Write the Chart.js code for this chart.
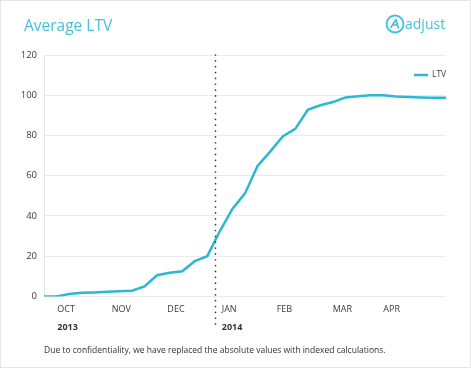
<!DOCTYPE html>
<html><head><meta charset="utf-8">
<script src="https://cdn.jsdelivr.net/npm/chart.js@4"></script>
<style>html,body{margin:0;padding:0;background:#fff}#wrap{width:471px;height:368px;position:relative}</style>
</head><body><div id="wrap"><canvas id="c"></canvas></div>
<script>
// ---- data (weekly points) ----
const weeks = ['2013-09-23','2013-09-30','2013-10-07','2013-10-14','2013-10-21','2013-10-28','2013-11-04','2013-11-11','2013-11-18','2013-11-25','2013-12-02','2013-12-09','2013-12-16','2013-12-23','2013-12-30','2014-01-06','2014-01-13','2014-01-20','2014-01-27','2014-02-03','2014-02-10','2014-02-17','2014-02-24','2014-03-03','2014-03-10','2014-03-17','2014-03-24','2014-03-31','2014-04-07','2014-04-14','2014-04-21','2014-04-28','2014-05-05'];
const ltv = [0,0,1.2,1.8,2.0,2.3,2.6,2.8,5.0,10.5,11.8,12.5,17.5,20,32.5,43.5,51.2,64.8,72,79.5,83.3,92.8,95,96.6,98.9,99.5,100,100,99.4,99.1,98.9,98.8,98.8];
const monthLabels = ['OCT','NOV','DEC','JAN','FEB','MAR','APR'];
const monthPos = [1.06,5.39,9.82,14.15,18.52,22.98,27.01];
const yearLabels = ['2013','2014'];
const yearPos = [1.06,14.15];
const yearDivider = 13.61;
const seriesName = 'LTV';
const titleText = 'Average LTV';
const footnote = 'Due to confidentiality, we have replaced the absolute values with indexed calculations.';

const CYAN = '#2bb8d1';
const TITLE_CYAN = '#45c0dc';
const FONT = '"Open Sans", "DejaVu Sans", sans-serif';

const decor = {
  id: 'decor',
  beforeDraw(chart) {
    const ctx = chart.ctx;
    ctx.save();
    ctx.fillStyle = '#fff';
    ctx.fillRect(0, 0, chart.width, chart.height);
    ctx.strokeStyle = '#e6e6e6';
    ctx.lineWidth = 1;
    ctx.strokeRect(0.5, 0.5, chart.width - 1, chart.height - 1);
    ctx.restore();
  },
  afterDatasetsDraw(chart) {
    const {ctx, chartArea, scales} = chart;
    const x = Math.round(scales.x.getPixelForValue(yearDivider)) + 0.5;
    ctx.save();
    ctx.strokeStyle = '#3a3a3a';
    ctx.lineWidth = 1.7;
    ctx.lineCap = 'round';
    ctx.setLineDash([0, 5.85]);
    ctx.beginPath();
    ctx.moveTo(x, chartArea.top);
    ctx.lineTo(x, chartArea.bottom + 33);
    ctx.stroke();
    ctx.restore();
  },
  afterDraw(chart) {
    const {ctx, chartArea} = chart;
    ctx.save();
    // title
    ctx.fillStyle = TITLE_CYAN;
    ctx.font = '15.5px ' + FONT;
    ctx.textBaseline = 'alphabetic';
    ctx.textAlign = 'left';
    ctx.fillText(titleText, 24, 30.5);
    // logo
    const cx = 395, cy = 24;
    ctx.strokeStyle = TITLE_CYAN;
    ctx.lineWidth = 1.8;
    ctx.beginPath(); ctx.arc(cx, cy, 8.5, 0, Math.PI * 2); ctx.stroke();
    ctx.lineWidth = 1.6;
    ctx.lineJoin = 'round';
    ctx.beginPath();
    ctx.moveTo(cx - 4.5, cy + 4);
    ctx.lineTo(cx + 1, cy - 4.5);
    ctx.lineTo(cx + 3.5, cy + 4.5);
    ctx.moveTo(cx - 2.5, cy + 1);
    ctx.lineTo(cx + 2.5, cy + 1);
    ctx.stroke();
    ctx.fillStyle = TITLE_CYAN;
    ctx.font = '500 14px ' + FONT;
    ctx.fillText('adjust', 405, 29);
    // legend
    const ds = chart.data.datasets[0];
    const ly = chartArea.top + 20;
    ctx.strokeStyle = ds.borderColor;
    ctx.lineWidth = 2.5;
    ctx.beginPath(); ctx.moveTo(chartArea.right - 32, ly); ctx.lineTo(chartArea.right - 18, ly); ctx.stroke();
    ctx.fillStyle = '#444';
    ctx.font = '8.5px ' + FONT;
    ctx.textBaseline = 'middle';
    ctx.fillText(ds.label, chartArea.right - 14, ly);
    // footnote
    ctx.fillStyle = '#333';
    ctx.font = '8.5px ' + FONT;
    ctx.fillText(footnote, chartArea.left, 351);
    ctx.restore();
  }
};

new Chart(document.getElementById('c'), {
  type: 'line',
  data: {
    datasets: [{
      label: seriesName,
      data: weeks.map((w, i) => ({x: i, y: ltv[i], week: w})),
      borderColor: CYAN,
      backgroundColor: CYAN,
      borderWidth: 2.5,
      pointRadius: 0,
      tension: 0,
      fill: false
    }]
  },
  options: {
    responsive: true,
    maintainAspectRatio: false,
    animation: false,
    layout: {padding: {top: 55, left: 4, right: 25, bottom: 35}},
    plugins: {legend: {display: false}, title: {display: false}, tooltip: {enabled: false}},
    scales: {
      x: {
        type: 'linear', min: 0, max: weeks.length - 1, position: 'bottom', weight: 0,
        grid: {display: false, drawTicks: false}, border: {display: false},
        afterBuildTicks: s => { s.ticks = monthPos.map(v => ({value: v})); },
        ticks: {autoSkip: false, maxRotation: 0, align: 'start', padding: 7.5, color: '#3a3a3a',
          font: {family: FONT, size: 9},
          callback: (v, i) => monthLabels[i]}
      },
      x2: {
        type: 'linear', min: 0, max: weeks.length - 1, position: 'bottom', weight: 1,
        grid: {display: false, drawTicks: false}, border: {display: false},
        afterBuildTicks: s => { s.ticks = yearPos.map(v => ({value: v})); },
        ticks: {autoSkip: false, maxRotation: 0, align: 'start', padding: 0, color: '#333',
          font: {family: FONT, size: 9, weight: 'bold'},
          callback: (v, i) => yearLabels[i]}
      },
      y: {
        min: 0, max: 120,
        afterFit: s => { s.width = 40; },
        grid: {color: '#ebebeb', lineWidth: 1, drawTicks: false},
        border: {display: true, color: '#e6e6e6'},
        ticks: {stepSize: 20, padding: 7, color: '#3a3a3a', font: {family: FONT, size: 9.5}}
      }
    }
  },
  plugins: [decor]
});
</script>
</body></html>
